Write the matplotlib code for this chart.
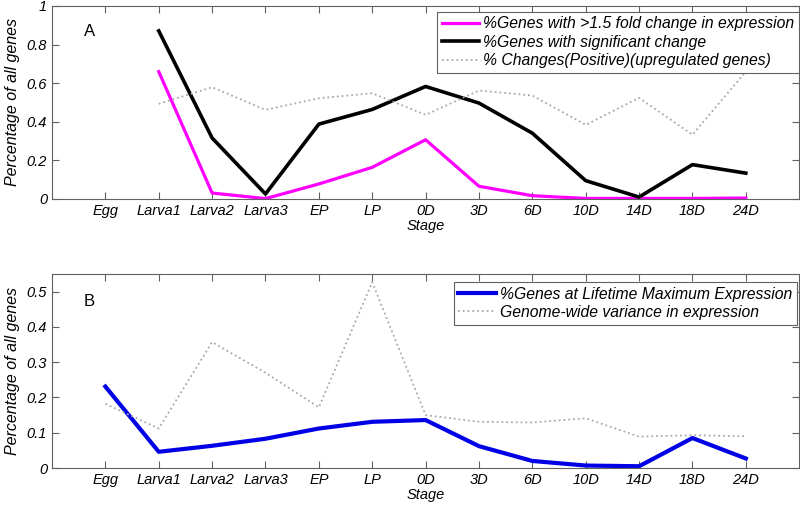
import numpy as np
import matplotlib.pyplot as plt

plt.rcParams['font.family'] = ['Liberation Sans', 'DejaVu Sans']

stages = ['Egg', 'Larva1', 'Larva2', 'Larva3', 'EP', 'LP', '0D', '3D', '6D',
          '10D', '14D', '18D', '24D']

# panel A (no value at Egg)
fold_change = [np.nan, 0.66, 0.031, 0.002, 0.078, 0.164, 0.307, 0.066, 0.017,
               0.003, 0.003, 0.003, 0.005]
signif_change = [np.nan, 0.871, 0.316, 0.026, 0.388, 0.464, 0.583, 0.497, 0.341,
                 0.095, 0.01, 0.178, 0.134]
pos_change = [np.nan, 0.493, 0.579, 0.462, 0.522, 0.548, 0.436, 0.562, 0.536,
              0.384, 0.524, 0.333, 0.66]

# panel B
lifetime_max = [0.231, 0.046, 0.063, 0.083, 0.112, 0.131, 0.136, 0.062, 0.02,
                0.007, 0.005, 0.085, 0.027]
genome_var = [0.182, 0.112, 0.357, 0.27, 0.172, 0.527, 0.150, 0.131, 0.129,
              0.141, 0.089, 0.093, 0.09]

x = np.arange(1, len(stages) + 1)
grey = '#a8a8a8'
frame = '#606060'

fig = plt.figure(figsize=(8, 5.07), dpi=100)
axA = fig.add_axes([0.065, 0.6075, 0.934, 0.3807])
axB = fig.add_axes([0.065, 0.0769, 0.934, 0.3826])


def style(ax, ylim, yticks):
    ax.set_xlim(0, 14)
    ax.set_ylim(*ylim)
    ax.set_xticks(x)
    ax.set_xticklabels(stages, fontstyle='italic', fontsize=10.5)
    ax.set_yticks(yticks)
    ax.set_yticklabels(['%g' % v for v in yticks], fontstyle='italic', fontsize=10.5)
    ax.tick_params(direction='in', top=True, right=True, length=5, color=frame)
    for s in ax.spines.values():
        s.set_color(frame)
    ax.set_xlabel('Stage', fontstyle='italic', fontsize=10.5, labelpad=1)
    ax.set_ylabel('Percentage of all genes', fontstyle='italic', fontsize=11.5,
                  labelpad=5)


def legend(ax, anchor):
    leg = ax.legend(loc='upper right', bbox_to_anchor=anchor,
                    prop={'style': 'italic', 'size': 11.3}, fancybox=False,
                    framealpha=1, edgecolor=frame, handlelength=2.4,
                    borderpad=0.3, labelspacing=0.22, handletextpad=0.25,
                    borderaxespad=0)
    leg.get_frame().set_linewidth(0.8)
    return leg


axA.plot(x, fold_change, color='#ff00ff', lw=2.3,
         label='%Genes with >1.5 fold change in expression')
axA.plot(x, signif_change, color='black', lw=2.6,
         label='%Genes with significant change')
axA.plot(x, pos_change, color=grey, lw=1.3, ls=':',
         label='% Changes(Positive)(upregulated genes)')
style(axA, (0, 1), [0, 0.2, 0.4, 0.6, 0.8, 1])
axA.text(0.6, 0.845, 'A', fontsize=12)
legend(axA, (1.0, 0.97))

axB.plot(x, lifetime_max, color='#0000e6', lw=3,
         label='%Genes at Lifetime Maximum Expression')
axB.plot(x, genome_var, color=grey, lw=1.3, ls=':',
         label='Genome-wide variance in expression')
style(axB, (0, 0.55), [0, 0.1, 0.2, 0.3, 0.4, 0.5])
axB.text(0.6, 0.459, 'B', fontsize=12)
legend(axB, (0.997, 0.96))

fig.savefig('out.png', dpi=100)
